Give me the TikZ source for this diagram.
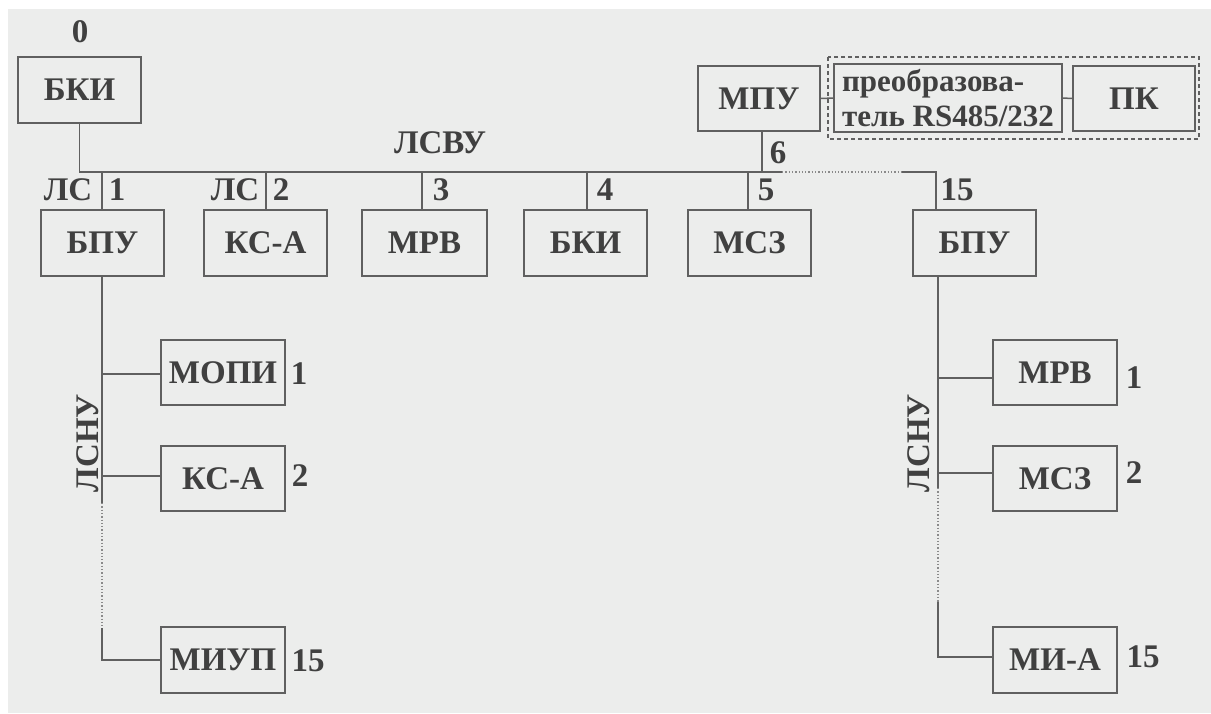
\documentclass[tikz,border=0pt]{standalone}
\usepackage{fontspec}
\setmainfont{Liberation Serif}
\begin{document}
\begin{tikzpicture}[x=1pt,y=-1pt,
  bx/.style={draw=linec,line width=1.5pt,fill=bgc,minimum width=123pt,minimum height=66pt,inner sep=0pt,font=\fontsize{33}{36}\selectfont\bfseries,text=txtc},
  lbl/.style={font=\fontsize{33}{36}\selectfont\bfseries,text=txtc,inner sep=0pt},
  ln/.style={draw=linec,line width=1.5pt},
  dl/.style={draw=dotc,line width=1.3pt,dotted}]
\definecolor{bgc}{HTML}{ECEDEC}
\definecolor{txtc}{HTML}{404040}
\definecolor{linec}{HTML}{606060}
\definecolor{dotc}{HTML}{8A8A8A}
\useasboundingbox (0,0) rectangle (1211,713);
\fill[white] (0,0) rectangle (1211,713);
\fill[bgc] (8,9) rectangle (1211,713);
% top boxes
\node[bx] (bki0) at (79.5,90) {БКИ};
\node[bx] (bpu1) at (102.5,243) {БПУ};
\node[bx] (ksa1) at (265.5,243) {КС-А};
\node[bx,minimum width=125pt] (mrv1) at (424.5,243) {МРВ};
\node[bx] (bki4) at (585.5,243) {БКИ};
\node[bx] (msz1) at (749.5,243) {МСЗ};
\node[bx] (bpu15) at (974.5,243) {БПУ};
\node[bx,minimum width=122pt,minimum height=65pt] (mpu) at (759,98.5) {МПУ};
\node[bx,minimum width=228pt,minimum height=68pt,align=left,font=\fontsize{31}{35}\selectfont\bfseries] (conv) at (948,98) {преобразова-\\тель RS485/232};
\node[bx,minimum width=122pt,minimum height=65pt] (pk) at (1134,98.5) {ПК};
\draw[draw=linec,line width=1.2pt,dashed,dash pattern=on 4pt off 3pt] (828,57) rectangle (1199,139);
% lower left
\node[bx,minimum width=124pt,minimum height=65pt] (mopi) at (223,372.5) {МОПИ};
\node[bx,minimum width=124pt,minimum height=65pt] (ksa2) at (223,478.5) {КС-А};
\node[bx,minimum width=124pt,minimum height=66pt] (miup) at (223,660) {МИУП};
% lower right
\node[bx,minimum width=124pt,minimum height=65pt] (mrv2) at (1055,372.5) {МРВ};
\node[bx,minimum width=124pt,minimum height=65pt] (msz2) at (1055,478.5) {МСЗ};
\node[bx,minimum width=124pt,minimum height=66pt] (mia) at (1055,660) {МИ-А};
% bus
\coordinate (bs) at (782,172);
\coordinate (be) at (902,172);
\coordinate (br) at (936,172);
\draw[ln] (bki0.south) |- (bs);
\draw[dl] (bs) -- (be);
\draw[ln] (be) -- (br) -- (br |- bpu15.north);
\draw[ln] (102,172) -- (102,210);
\draw[ln] (266,172) -- (266,210);
\draw[ln] (422,172) -- (422,210);
\draw[ln] (587,172) -- (587,210);
\draw[ln] (748,172) -- (748,210);
\draw[ln] (762,131) -- (762,172);
\draw[ln] (mpu.east) -- (conv.west);
\draw[ln] (conv.east) -- (pk.west);
% left trunk
\coordinate (lt1) at (102,503);
\coordinate (lt2) at (102,628);
\draw[ln] (bpu1.south -| lt1) -- (lt1);
\draw[dl] (lt1) -- (lt2);
\draw[ln] (lt2) |- (miup.west);
\draw[ln] (102,374) -- (mopi.west |- 0,374);
\draw[ln] (102,476) -- (ksa2.west |- 0,476);
% right trunk
\coordinate (rt1) at (938,488);
\coordinate (rt2) at (938,602);
\draw[ln] (938,276) -- (rt1);
\draw[dl] (rt1) -- (rt2);
\draw[ln] (rt2) |- (mia.west |- 0,657);
\draw[ln] (938,378) -- (mrv2.west |- 0,378);
\draw[ln] (938,473) -- (msz2.west |- 0,473);
% labels
\node[lbl] (l0) at (80,32) {0};
\node[lbl] (lsvu) at (440,143) {ЛСВУ};
\node[lbl] (ls1) at (68,190) {ЛС};
\node[lbl] (n1) at (117,190) {1};
\node[lbl] (ls2) at (235,190) {ЛС};
\node[lbl] (n2) at (281,190) {2};
\node[lbl] (n3) at (441,190) {3};
\node[lbl] (n4) at (605,190) {4};
\node[lbl] (n5) at (766,190) {5};
\node[lbl] (n6) at (778,153) {6};
\node[lbl] (n15) at (957,190) {15};
\node[lbl] (m1) at (299,374) {1};
\node[lbl] (m2) at (300,476) {2};
\node[lbl] (m15) at (308,661) {15};
\node[lbl] (r1) at (1134,378) {1};
\node[lbl] (r2) at (1134,473) {2};
\node[lbl] (r15) at (1143,657) {15};
\node[lbl,rotate=90] (lsnuL) at (88,443) {ЛСНУ};
\node[lbl,rotate=90] (lsnuR) at (919,443) {ЛСНУ};
\end{tikzpicture}
\end{document}
